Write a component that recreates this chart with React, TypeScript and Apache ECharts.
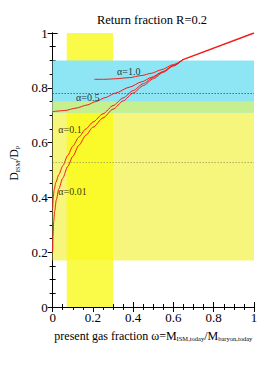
import React, { useEffect, useRef } from "react";
import * as echarts from "echarts";

// Curves: [omega, D_ISM/D_P]
const convergencePoint: number[] = [0.647, 0.903];
const convergedTail: number[][] = [[0.647, 0.903], [1, 1]];
const alpha10: number[][] = [[0.207, 0.831], [0.26, 0.831], [0.313, 0.833], [0.38, 0.837], [0.443, 0.845], [0.49, 0.853], [0.54, 0.866], [0.6, 0.885]];
const alpha05: number[][] = [[0, 0.713], [0.06, 0.717], [0.117, 0.726], [0.17, 0.737], [0.215, 0.75], [0.26, 0.764], [0.313, 0.781], [0.38, 0.802], [0.443, 0.822], [0.49, 0.838], [0.54, 0.856], [0.6, 0.88]];
const alpha01: number[][] = [[0, 0.36], [0.003, 0.4], [0.008, 0.43], [0.016, 0.455], [0.03, 0.482], [0.05, 0.515], [0.075, 0.553], [0.1, 0.587], [0.13, 0.62], [0.165, 0.65], [0.2, 0.675], [0.25, 0.705], [0.3, 0.735], [0.35, 0.763], [0.4, 0.79], [0.45, 0.815], [0.5, 0.838], [0.55, 0.86], [0.6, 0.882]];
const alpha001: number[][] = [[0, 0.2], [0.002, 0.26], [0.005, 0.31], [0.01, 0.35], [0.018, 0.39], [0.03, 0.43], [0.05, 0.47], [0.075, 0.513], [0.1, 0.55], [0.13, 0.59], [0.165, 0.627], [0.2, 0.656], [0.25, 0.69], [0.3, 0.722], [0.35, 0.752], [0.4, 0.781], [0.45, 0.808], [0.5, 0.833], [0.55, 0.857], [0.6, 0.88]];

const curveNames = ["α=1.0", "α=0.5", "α=0.1", "α=0.01"];
// label anchors in data coordinates [omega, D]
const labelAnchors: number[][] = [[0.32, 0.861], [0.116, 0.766], [0.028, 0.646], [0.028, 0.42]];

// Observational bands
const verticalBand = [0.07, 0.3];
const yellowBand = [0.17, 0.75];
const cyanBand = [0.71, 0.9];
const overlapBand = [0.71, 0.75];
const dottedLevels = [0.78, 0.527];

const FONT = "'Liberation Serif', 'DejaVu Serif', serif";

export default function App() {
  const ref = useRef<HTMLDivElement>(null);
  useEffect(() => {
    const chart = echarts.init(ref.current!, null, { renderer: "svg" });
    const red = "#f21a1a";
    const curves = [alpha10, alpha05, alpha01, alpha001];
    const axisCommon = {
      type: "value" as const,
      min: 0,
      max: 1,
      interval: 0.2,
      splitLine: { show: false },
      axisLine: { show: true, lineStyle: { color: "#000", width: 1 } },
      axisTick: { show: true, inside: true, length: 5, lineStyle: { color: "#000" } },
      minorTick: { show: true, splitNumber: 4, length: 3, lineStyle: { color: "#000" } },
    };
    const subStyle = { fontSize: 6.5, fontFamily: FONT, color: "#000", verticalAlign: "bottom", padding: [6, 0, 0, 0] };
    chart.setOption({
      animation: false,
      grid: { left: 49, top: 33, width: 205, height: 274 },
      xAxis: [
        {
          ...axisCommon,
          position: "bottom",
          axisLabel: { color: "#000", fontFamily: FONT, fontSize: 13, margin: 4 },
          name: "present gas fraction ω=M{s|ISM,today}/M{s|baryon,today}",
          nameLocation: "middle",
          nameGap: 22,
          nameTextStyle: {
            color: "#000",
            fontFamily: FONT,
            fontSize: 12,
            rich: { s: subStyle },
          },
        },
        { ...axisCommon, position: "top", axisLabel: { show: false } },
      ],
      yAxis: [
        {
          ...axisCommon,
          position: "left",
          axisLabel: { color: "#000", fontFamily: FONT, fontSize: 13, margin: 5 },
          name: "D{s|ISM}/D{s|P}",
          nameLocation: "middle",
          nameGap: 24,
          nameRotate: 90,
          nameTextStyle: {
            color: "#000",
            fontFamily: FONT,
            fontSize: 11.5,
            padding: [0, 0, 0, 14],
            rich: { s: subStyle },
          },
        },
        { ...axisCommon, position: "right", axisLabel: { show: false } },
      ],
      graphic: [
        {
          type: "text",
          x: 152,
          y: 20,
          style: { text: "Return fraction R=0.2", font: `12.5px ${FONT}`, fill: "#000", align: "center", verticalAlign: "middle" },
        },
      ],
      series: [
        {
          type: "line",
          data: [],
          silent: true,
          z: 1,
          markArea: {
            silent: true,
            data: [
              [{ xAxis: verticalBand[0], yAxis: 0, itemStyle: { color: "#fafa48" } }, { xAxis: verticalBand[1], yAxis: 1 }],
              [{ xAxis: 0, yAxis: yellowBand[0], itemStyle: { color: "#f6f67c" } }, { xAxis: 1, yAxis: yellowBand[1] }],
              [{ xAxis: verticalBand[0], yAxis: yellowBand[0], itemStyle: { color: "#fafa2a" } }, { xAxis: verticalBand[1], yAxis: yellowBand[1] }],
              [{ xAxis: 0, yAxis: cyanBand[0], itemStyle: { color: "#8ee6f4" } }, { xAxis: 1, yAxis: cyanBand[1] }],
              [{ xAxis: 0, yAxis: overlapBand[0], itemStyle: { color: "#c6ef90" } }, { xAxis: 1, yAxis: overlapBand[1] }],
            ],
          },
          markLine: {
            silent: true,
            symbol: "none",
            label: { show: false },
            data: [
              { yAxis: dottedLevels[0], lineStyle: { color: "#333", type: [1, 2], width: 1 } },
              { yAxis: dottedLevels[1], lineStyle: { color: "#8a8a55", type: [1, 2], width: 1 } },
            ],
          },
        },
        ...curves.map((c) => ({
          type: "line",
          data: [...c, convergencePoint],
          showSymbol: false,
          symbol: "none",
          smooth: 0.25,
          smoothMonotone: "x",
          z: 3,
          lineStyle: { color: red, width: 1 },
          silent: true,
        })),
        {
          type: "line",
          data: convergedTail,
          showSymbol: false,
          symbol: "none",
          smooth: false,
          z: 3,
          lineStyle: { color: red, width: 1.4 },
          silent: true,
        },
        {
          type: "scatter",
          symbolSize: 0,
          z: 4,
          silent: true,
          data: labelAnchors.map((p, i) => ({ value: p, name: curveNames[i] })),
          label: {
            show: true,
            position: "right",
            distance: 0,
            formatter: (p: any) => p.name,
            fontFamily: FONT,
            fontSize: 10,
            color: "#000",
            align: "left",
            verticalAlign: "middle",
          },
        },
      ],
    });
    return () => chart.dispose();
  }, []);
  return <div ref={ref} style={{ position: "fixed", left: 0, top: 0, width: 279, height: 374, background: "#fff" }} />;
}
